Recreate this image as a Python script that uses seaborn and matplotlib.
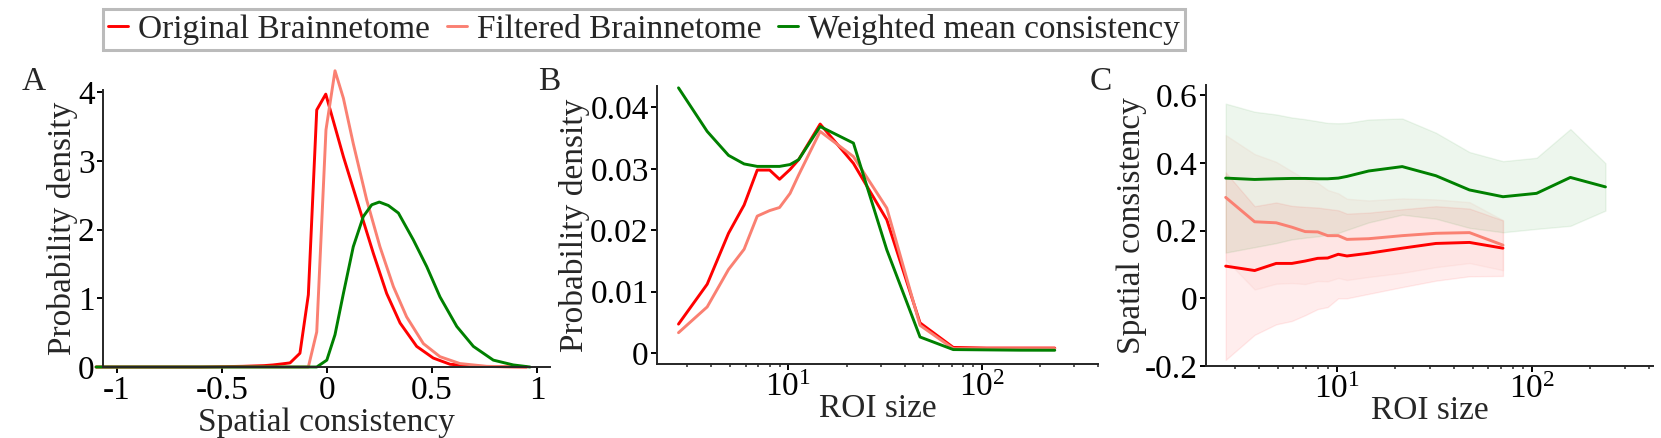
import matplotlib
matplotlib.use("Agg")
import matplotlib.pyplot as plt
from matplotlib.ticker import FuncFormatter, FixedLocator
import seaborn as sns

# panel A: probability density of spatial consistency
cons_orig = [-1.1, -0.6, -0.4, -0.3, -0.257, -0.215, -0.176, -0.129, -0.089, -0.049, -0.006,
             0.078, 0.157, 0.221, 0.284, 0.348, 0.427, 0.506, 0.586, 0.70, 0.95]
dens_a_orig = [0, 0.0, 0.01, 0.02, 0.03, 0.045, 0.06, 0.2, 1.05, 3.74, 3.97,
               3.06, 2.28, 1.65, 1.07, 0.64, 0.30, 0.13, 0.04, 0.01, 0.0]
cons_filt = [-1.1, -0.089, -0.049, -0.005, 0.038, 0.078, 0.125, 0.189, 0.252, 0.316,
             0.379, 0.459, 0.538, 0.633, 0.76, 0.95]
dens_a_filt = [0, 0, 0.51, 3.45, 4.31, 3.91, 3.25, 2.43, 1.75, 1.17,
               0.73, 0.34, 0.15, 0.05, 0.01, 0]
cons_wmc = [-1.1, -0.049, -0.001, 0.038, 0.078, 0.125, 0.173, 0.213, 0.249, 0.292,
            0.340, 0.411, 0.475, 0.538, 0.618, 0.697, 0.792, 0.887, 0.967]
dens_a_wmc = [0, 0, 0.10, 0.47, 1.07, 1.75, 2.19, 2.36, 2.40, 2.35,
              2.24, 1.85, 1.46, 1.02, 0.59, 0.30, 0.10, 0.03, 0.0]

# panel B: probability density of ROI size
roi_b = [2.7, 3.8, 4.9, 5.9, 6.9, 8.0, 9.0, 10.2, 11.3, 14.6, 21.7, 32.3, 48, 71.3, 106, 158, 239]
dens_b_orig = [0.0047, 0.0112, 0.0195, 0.0241, 0.0298, 0.0298, 0.0283, 0.0299, 0.0315, 0.0373,
               0.0309, 0.0217, 0.0049, 0.0009, 0.0008, 0.0008, 0.0008]
dens_b_filt = [0.0033, 0.0075, 0.0136, 0.0169, 0.0223, 0.0232, 0.0237, 0.0260, 0.0290, 0.0361,
               0.0320, 0.0236, 0.0045, 0.0007, 0.0007, 0.0007, 0.0007]
dens_b_wmc = [0.0432, 0.0361, 0.0322, 0.0308, 0.0304, 0.0304, 0.0304, 0.0307, 0.0315, 0.0369,
              0.0342, 0.0168, 0.0026, 0.00055, 0.0005, 0.00045, 0.00044]

# panel C: spatial consistency vs ROI size (mean and spread)
roi_c = [2.7, 3.8, 4.9, 5.9, 6.9, 8.0, 9.0, 10.2, 11.3, 14.6, 21.7, 32.3, 48, 71.3, 106, 158, 239]
mean_c_orig = [0.095, 0.082, 0.103, 0.103, 0.110, 0.118, 0.119, 0.130, 0.125, 0.133,
               0.148, 0.162, 0.165, 0.148]
sd_c_orig = [0.277, 0.19, 0.18, 0.17, 0.16, 0.15, 0.145, 0.13, 0.125, 0.12,
             0.115, 0.11, 0.10, 0.082]
mean_c_filt = [0.298, 0.226, 0.223, 0.210, 0.197, 0.196, 0.185, 0.185, 0.174, 0.176,
               0.185, 0.192, 0.194, 0.157]
sd_c_filt = [0.184, 0.20, 0.18, 0.165, 0.155, 0.145, 0.135, 0.125, 0.12, 0.113,
             0.11, 0.10, 0.09, 0.074]
mean_c_wmc = [0.355, 0.351, 0.353, 0.354, 0.354, 0.353, 0.353, 0.355, 0.360, 0.376,
              0.389, 0.362, 0.320, 0.300, 0.310, 0.357, 0.329]
sd_c_wmc = [0.22, 0.20, 0.19, 0.18, 0.175, 0.17, 0.165, 0.162, 0.158, 0.152,
            0.142, 0.127, 0.112, 0.105, 0.105, 0.143, 0.07]

labels = ["Original Brainnetome", "Filtered Brainnetome", "Weighted mean consistency"]
colors = ["red", "salmon", "green"]

sns.set_theme(style="ticks")
plt.rcParams['font.family'] = ['Liberation Serif', 'DejaVu Serif']
plt.rcParams['mathtext.fontset'] = 'custom'
plt.rcParams['mathtext.rm'] = 'Liberation Serif'
plt.rcParams['mathtext.it'] = 'Liberation Serif:italic'
plt.rcParams['axes.unicode_minus'] = False
plt.rcParams['font.size'] = 24
plt.rcParams['axes.labelsize'] = 24
plt.rcParams['axes.linewidth'] = 1.4

W, H = 1661, 438
fig = plt.figure(figsize=(W / 100, H / 100), dpi=100)


def px_axes(left, right, top, bottom):
    return fig.add_axes([left / W, 1 - bottom / H, (right - left) / W, (bottom - top) / H])


ax_a = px_axes(103, 550, 90, 367)
ax_b = px_axes(657, 1098, 86, 364)
ax_c = px_axes(1206, 1653, 85, 366)

fmt = FuncFormatter(lambda v, p: "%g" % v)
lw = 2.1

# A
for x, y, c in zip([cons_orig, cons_filt, cons_wmc], [dens_a_orig, dens_a_filt, dens_a_wmc], colors):
    sns.lineplot(x=x, y=y, color=c, lw=lw, ax=ax_a, clip_on=False, sort=False)
ax_a.set_xlim(-1.067, 1.062)
ax_a.set_ylim(0, 4.03)
ax_a.xaxis.set_major_locator(FixedLocator([-1, -0.5, 0, 0.5, 1]))
ax_a.yaxis.set_major_locator(FixedLocator([0, 1, 2, 3, 4]))
ax_a.set_xlabel("Spatial consistency", fontsize=24, labelpad=1)
ax_a.set_ylabel("Probability density", fontsize=24, labelpad=0)

# B
for y, c in zip([dens_b_orig, dens_b_filt, dens_b_wmc], colors):
    sns.lineplot(x=roi_b, y=y, color=c, lw=lw, ax=ax_b, clip_on=False)
ax_b.set_xscale("log")
ax_b.set_xlim(2.09, 400)
ax_b.set_ylim(-0.0018, 0.0435)
ax_b.yaxis.set_major_locator(FixedLocator([0, 0.01, 0.02, 0.03, 0.04]))
ax_b.set_xlabel("ROI size", fontsize=24, labelpad=-7)
ax_b.set_ylabel("Probability density", fontsize=24, labelpad=0)

# C
for m, s, c in zip([mean_c_orig, mean_c_filt, mean_c_wmc], [sd_c_orig, sd_c_filt, sd_c_wmc], colors):
    xs = roi_c[:len(m)]
    lo = [a - b for a, b in zip(m, s)]
    hi = [a + b for a, b in zip(m, s)]
    ax_c.fill_between(xs, lo, hi, color=c, alpha=0.07, lw=1)
    sns.lineplot(x=xs, y=m, color=c, lw=lw, ax=ax_c)
ax_c.set_xscale("log")
ax_c.set_xlim(2.14, 419)
ax_c.set_ylim(-0.2, 0.63)
ax_c.yaxis.set_major_locator(FixedLocator([-0.2, 0, 0.2, 0.4, 0.6]))
ax_c.set_xlabel("ROI size", fontsize=24, labelpad=-7)
ax_c.set_ylabel("Spatial consistency", fontsize=24, labelpad=-2)

for ax in (ax_a, ax_b, ax_c):
    sns.despine(ax=ax)
    ax.yaxis.set_major_formatter(fmt)
    if ax is ax_a:
        ax.xaxis.set_major_formatter(fmt)
    ax.tick_params(which="major", length=4, width=1.4, pad=2, labelsize=24, colors="black")
    ax.tick_params(which="minor", length=2.5, width=1.1)
    ax.tick_params(axis="y", which="minor", left=False)

for letter, xpx in zip("ABC", [22, 538, 1090]):
    fig.text(xpx / W, 1 - 90 / H, letter, fontsize=24, va="baseline", ha="left")

handles = ax_a.get_lines()[:3]
leg = fig.legend(handles, labels, loc="upper left", bbox_to_anchor=(103 / W, 1 - 9 / H),
                 ncol=3, frameon=True, fancybox=False, framealpha=1, edgecolor="#bbbbbb",
                 handlelength=0.6, handletextpad=0.3, columnspacing=0.5, borderpad=0.15,
                 borderaxespad=0, fontsize=24)
leg.get_frame().set_linewidth(2.2)

fig.savefig("out.png", dpi=100)
